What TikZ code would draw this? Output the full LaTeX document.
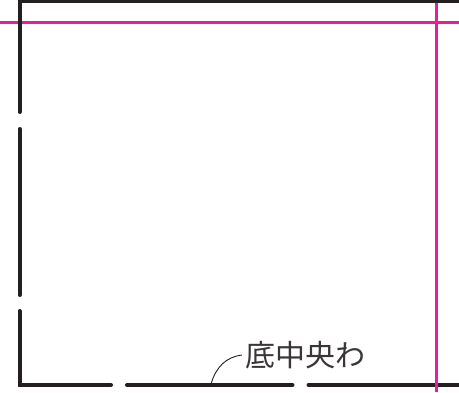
\documentclass[tikz,border=0pt]{standalone}
\usepackage{fontspec}
\newfontfamily\jpfont{Noto Sans CJK JP}
\definecolor{inkk}{HTML}{231F20}
\definecolor{lblink}{HTML}{3A3637}
\definecolor{trim}{HTML}{EC1C99}
\tikzset{
  wall/.style={draw=inkk,line width=4pt,line cap=round},
  trimline/.style={draw=trim,line width=3.2pt},
  leader/.style={draw=inkk,line width=0.9pt},
  lbl/.style={text=lblink,font=\jpfont\fontsize{30}{30}\selectfont,inner sep=0pt,anchor=west}
}
\begin{document}
\begin{tikzpicture}[x=1pt,y=-1pt]
\useasboundingbox (0,0) rectangle (459,392);
\draw[trimline] (0,22.5) -- (459,22.5);
\draw[trimline] (436.5,0) -- (436.5,392);
\begin{scope}
\clip (0,0) rectangle (459,392);
\draw[wall,line cap=butt] (17.5,1.2) -- (459,1.2);
\draw[wall] (19.5,0) -- (19.5,112);
\draw[wall] (19.5,129) -- (19.5,295);
\draw[wall] (19.5,311) -- (19.5,385) -- (111,385);
\draw[wall] (127,385) -- (292.5,385);
\draw[wall] (308.5,385) -- (435,385);
\draw[wall,line cap=butt] (438,385) -- (459,385);
\end{scope}
\draw[trimline] (436.5,370) -- (436.5,392);
\node[lbl] (t) at (245,355) {底中央わ};
\coordinate (e) at (211,384);
\draw[leader] (t.west) ++(-3,0) coordinate (s) (s) .. controls (226,357) and (216,367) .. (e);
\end{tikzpicture}
\end{document}
